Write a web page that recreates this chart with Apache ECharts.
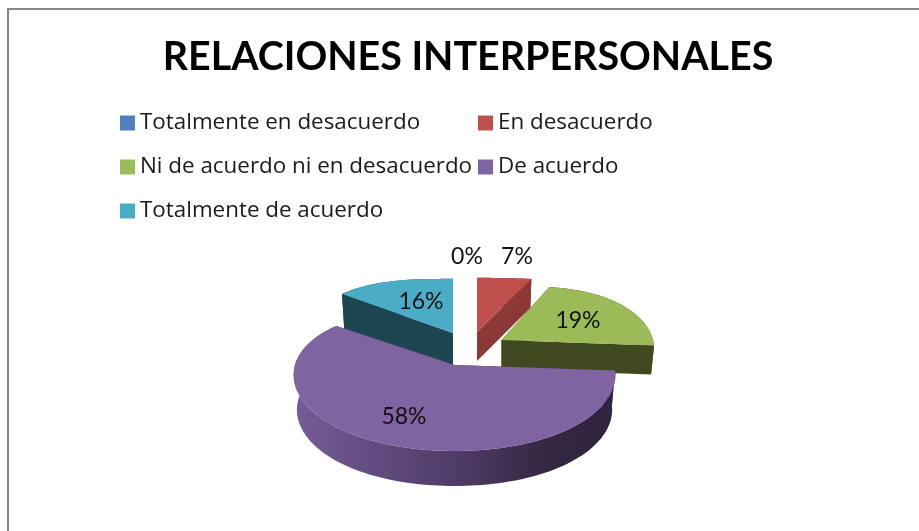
<!DOCTYPE html>
<html>
<head>
<meta charset="utf-8">
<script src="https://cdn.jsdelivr.net/npm/echarts@6/dist/echarts.min.js"></script>
<style>html,body{margin:0;padding:0;background:#fff}#c{width:919px;height:531px}</style>
</head>
<body>
<div id="c"></div>
<script>
// Data
const chartTitle = 'RELACIONES INTERPERSONALES';
const categories = ['Totalmente en desacuerdo', 'En desacuerdo', 'Ni de acuerdo ni en desacuerdo', 'De acuerdo', 'Totalmente de acuerdo'];
const percentValues = [0, 7, 19, 58, 16];

// Colours
const topColors = ['#4F81BD', '#C0504D', '#9BBB59', '#8064A2', '#4BACC6'];
const wallColors = ['#2C4D75', '#8C3836', '#40481F', '#4A3760', '#1D4652'];

// 3D pie layout (pixels): exploded slice apexes, thickness, label anchors
const sliceApex = [[477, 332], [477, 332], [501.5, 340], [454.5, 365], [453, 333]];
const sliceDepth = [30, 29, 29, 35, 36];
const sliceScaleX = [1, 1.08, 0.95, 1, 0.94];
const labelAnchor = [[467, 257], [517, 257], [578, 321], [404, 417], [421, 302]];
const legendSpots = [[120, 112], [478, 112], [120, 156], [478, 156], [120, 200]];
const radiusX = 159.5, radiusY = 86;
const labelFont = '23px Lato, Carlito, sans-serif';
const legendFamily = 'Open Sans';

const total = percentValues.reduce((a, b) => a + b, 0);

function project(i, deg) {
  const t = deg * Math.PI / 180;
  const u = Math.sin(t), v = -Math.cos(t);
  const sx = 1 + 0.15 * v - 0.15 * v * v;
  const sy = 1 + 0.185 * v - 0.185 * v * v;
  return [sliceApex[i][0] + radiusX * sliceScaleX[i] * u * sx,
          sliceApex[i][1] + radiusY * v * sy];
}

function dropped(i, p) {
  const a = sliceApex[i];
  return [a[0] + (p[0] - a[0]) * 0.98, p[1] + sliceDepth[i]];
}

function renderSlice(i) {
  const before = percentValues.slice(0, i).reduce((a, b) => a + b, 0);
  const start = before / total * 360;
  const end = (before + percentValues[i]) / total * 360;
  const children = [];
  if (percentValues[i] > 0) {
    const arc = [];
    const steps = Math.max(8, Math.round((end - start) / 2));
    for (let k = 0; k <= steps; k++) arc.push(project(i, start + (end - start) * k / steps));
    const apex = sliceApex[i];
    const apexLow = [apex[0], apex[1] + sliceDepth[i]];
    const wallStyle = { fill: wallColors[i] };
    // cut faces
    children.push({ type: 'polygon', shape: { points: [apex, arc[0], dropped(i, arc[0]), apexLow] }, style: wallStyle, silent: true });
    children.push({ type: 'polygon', shape: { points: [apex, arc[steps], dropped(i, arc[steps]), apexLow] }, style: wallStyle, silent: true });
    // outer curved wall
    const fill = i === 3 ? {
      type: 'linear', x: 0, y: 0, x2: 1, y2: 0,
      colorStops: [{ offset: 0, color: '#765C97' }, { offset: 0.5, color: '#4F3C68' }, { offset: 0.8, color: '#33263F' }, { offset: 1, color: '#2F2440' }]
    } : wallColors[i];
    children.push({ type: 'polygon', shape: { points: arc.concat(arc.map(p => dropped(i, p)).reverse()) }, style: { fill: fill }, silent: true });
    // top surface
    children.push({ type: 'polygon', shape: { points: [apex].concat(arc) }, style: { fill: topColors[i] }, silent: true });
  }
  children.push({
    type: 'text', silent: true, z2: 100,
    style: { text: percentValues[i] + '%', x: labelAnchor[i][0], y: labelAnchor[i][1], fill: '#111', font: labelFont, align: 'center', verticalAlign: 'middle' }
  });
  return { type: 'group', children: children };
}

const paintOrder = [4, 1, 2, 3, 0];

const option = {
  animation: false,
  backgroundColor: '#fff',
  title: {
    text: chartTitle, left: 463, top: 33, textAlign: 'center',
    textStyle: { fontFamily: 'Lato', fontWeight: 'bold', fontSize: 39.4, color: '#000' }
  },
  legend: categories.map((name, i) => ({
    data: [name], left: legendSpots[i][0], top: legendSpots[i][1], padding: 0,
    icon: 'rect', itemWidth: 15, itemHeight: 15, selectedMode: false,
    textStyle: { fontFamily: legendFamily, fontSize: 22.4, color: '#1a1a1a' }
  })),
  graphic: [
    { type: 'line', shape: { x1: 8, y1: 9, x2: 919, y2: 9 }, style: { stroke: '#868686', lineWidth: 2 }, silent: true },
    { type: 'line', shape: { x1: 8, y1: 8, x2: 8, y2: 531 }, style: { stroke: '#868686', lineWidth: 2 }, silent: true }
  ],
  series: categories.map((name, i) => ({
    type: 'custom', name: name, coordinateSystem: 'none',
    z: 2 + paintOrder.indexOf(i),
    silent: true,
    itemStyle: { color: topColors[i] },
    data: [[percentValues[i]]],
    renderItem: () => renderSlice(i)
  }))
};
echarts.init(document.getElementById('c'), null, { renderer: 'canvas' }).setOption(option);
</script>
</body>
</html>
